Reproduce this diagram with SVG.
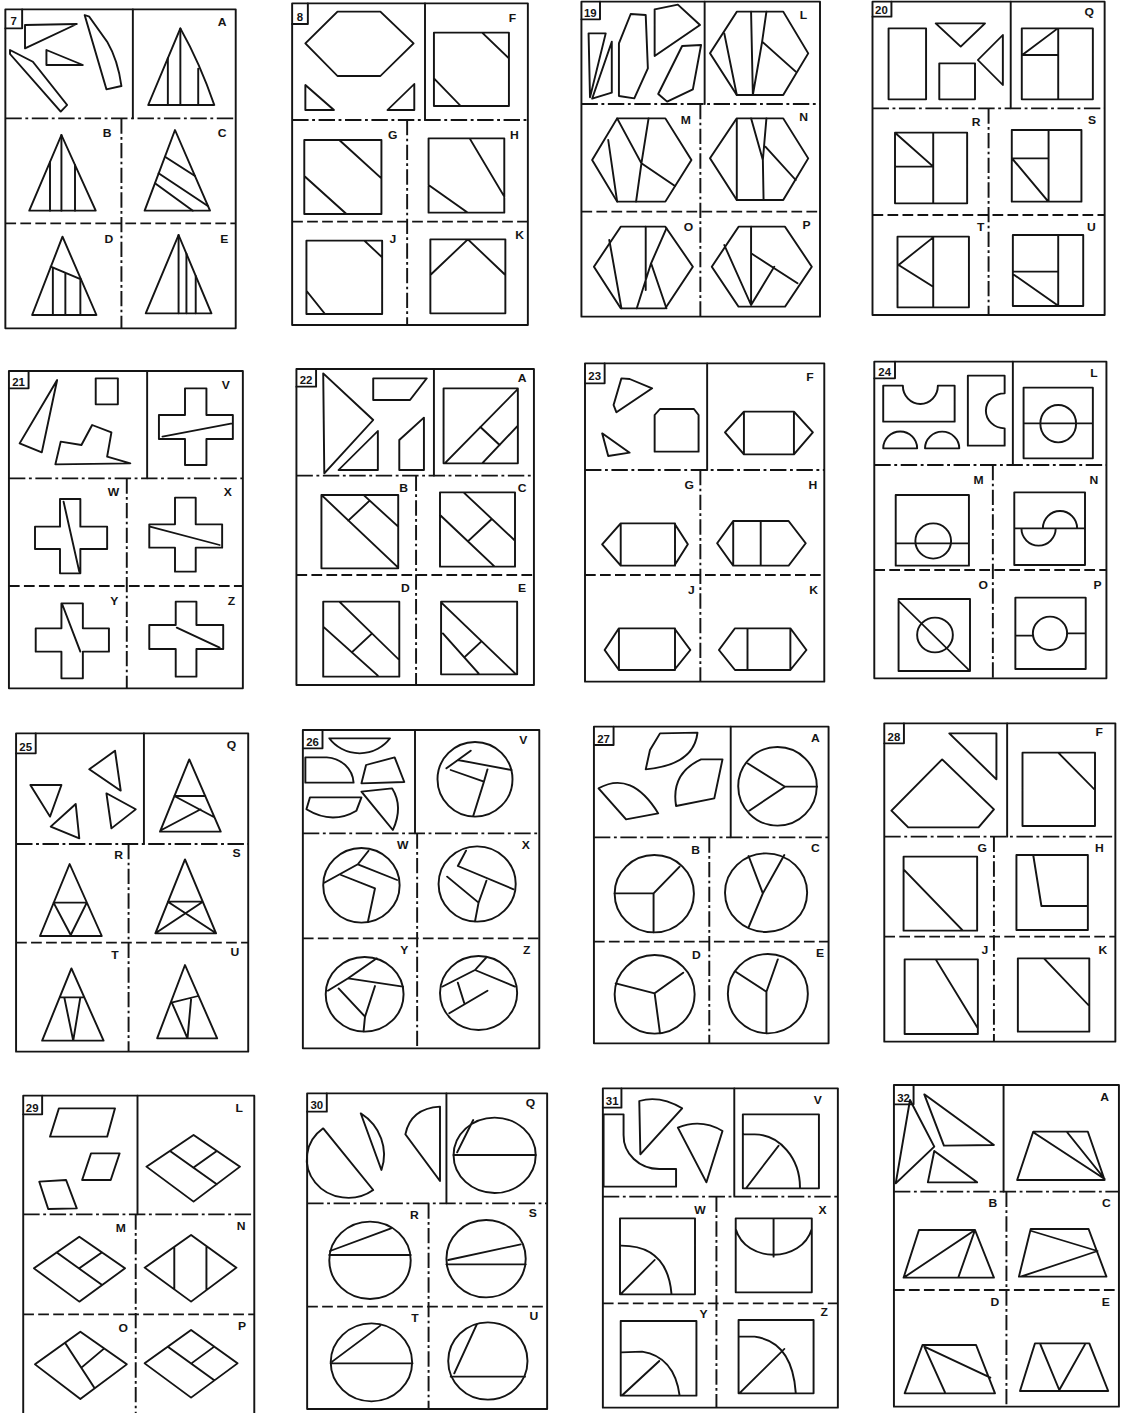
<svg xmlns="http://www.w3.org/2000/svg" width="1121" height="1413" viewBox="0 0 1121 1413">
<style>
.s{fill:none;stroke:#141414;stroke-width:5.4;stroke-linejoin:round;stroke-linecap:round}
.dd{stroke-dasharray:46 10 8 10;stroke-linecap:butt}
.da{stroke-dasharray:30 12;stroke-linecap:butt}
.t{font-family:"Liberation Sans",Arial,sans-serif;font-weight:bold;font-size:34px;fill:#141414;text-anchor:middle;stroke:none}
.n{font-family:"Liberation Sans",Arial,sans-serif;font-weight:bold;font-size:32px;fill:#141414;text-anchor:middle;stroke:none}
</style>
<rect width="1121" height="1413" fill="#fff"/>

<!-- Panel 7 -->
<g id="panel-7" class="s" transform="translate(0,0) scale(0.357143,0.333333)">
<path d="M15,28 H660 V985 H15 Z"/><path d="M62,28 V85 H15"/>
<text class="n" x="38" y="76">7</text>
<path d="M372,28 V355"/><path class="dd" d="M15,355 H660"/><path class="dd" d="M340,355 V985"/><path class="da" d="M15,670 H660"/>
<text class="t" x="622" y="77">A</text><text class="t" x="300" y="412">B</text><text class="t" x="622" y="412">C</text><text class="t" x="305" y="730">D</text><text class="t" x="628" y="730">E</text>
<path d="M70,75 L215,72 L70,145 Z"/><path d="M130,150 L232,195 L130,195 Z"/>
<path d="M28,150 L92,185 L188,315 L170,335 L28,162 Z"/>
<path d="M237,45 L250,50 L300,125 Q330,180 340,258 L298,268 Z"/>
<path d="M415,315 L505,85 Q560,190 600,315 Z"/><path d="M470,174 V315 M505,85 V315 M555,206 V312"/>
<path d="M172,405 L268,632 H82 Z"/><path d="M172,405 V632 M140,486 V632 M210,495 V632"/>
<path d="M490,390 L588,632 H405 Z"/><path d="M462,470 L546,528 M444,520 L582,618 M434,550 L540,632"/>
<path d="M175,710 L270,945 H90 Z"/><path d="M142,800 L227,838 M148,803 V945 M183,818 V945 M225,840 V945"/>
<path d="M500,705 L592,940 H408 Z"/><path d="M500,705 V940 M522,761 V940 M548,828 V940"/>
</g>

<!-- Panel 8 -->
<g id="panel-8" class="s" transform="translate(0,0) scale(0.357143,0.333333)">
<path d="M818,10 H1478 V975 H818 Z"/><path d="M862,10 V72 H818"/>
<text class="n" x="840" y="62">8</text>
<path d="M1190,10 V360"/><path class="dd" d="M818,360 H1478"/><path class="dd" d="M1140,360 V975"/><path class="da" d="M818,665 H1478"/>
<text class="t" x="1435" y="67">F</text><text class="t" x="1100" y="417">G</text><text class="t" x="1440" y="417">H</text><text class="t" x="1100" y="730">J</text><text class="t" x="1455" y="717">K</text>
<path d="M945,35 H1065 L1158,130 L1065,228 H945 L855,130 Z"/>
<path d="M855,255 V330 H935 Z"/><path d="M1160,252 V330 H1085 Z"/>
<path d="M1215,98 H1425 V318 H1215 Z M1350,98 L1425,175 M1215,235 L1290,318"/>
<path d="M852,420 H1068 V642 H852 Z M950,420 L1068,535 M852,528 L970,642"/>
<path d="M1200,415 H1412 V638 H1200 Z M1315,415 L1412,590 M1200,555 L1310,638"/>
<path d="M858,722 H1070 V942 H858 Z M1020,722 L1070,772 M858,872 L910,942"/>
<path d="M1205,718 H1415 V940 H1205 Z M1205,825 L1310,718 L1415,825"/>
</g>

<!-- Panel 19 -->
<g id="panel-19" class="s" transform="translate(560,0) scale(0.357143,0.333333)">
<path d="M60,5 H728 V950 H60 Z"/><path d="M112,5 V58 H60"/>
<text class="n" x="85" y="50">19</text>
<path d="M405,5 V312"/><path class="dd" d="M60,312 H728"/><path class="dd" d="M393,312 V950"/><path class="da" d="M60,635 H728"/>
<text class="t" x="682" y="57">L</text><text class="t" x="352" y="372">M</text><text class="t" x="682" y="362">N</text><text class="t" x="360" y="692">O</text><text class="t" x="690" y="687">P</text>
<path d="M80,100 L128,100 L84,292 Z"/><path d="M145,125 L145,278 L90,296 Z"/>
<path d="M198,42 L240,45 L246,205 L208,295 L165,288 L165,130 Z"/>
<path d="M265,28 L330,14 L392,75 L265,168 Z"/>
<path d="M342,138 L395,135 L372,268 L300,305 L275,282 Z"/>
<path d="M495,35 H625 L695,160 L625,285 H495 L420,160 Z"/><path d="M460,100 L495,285 M535,35 L540,285 M578,35 L566,125 L660,215 M566,125 L540,285"/>
<path d="M160,355 H295 L368,480 L295,605 H160 L90,480 Z"/><path d="M135,420 L160,605 M160,355 L228,490 M248,355 L228,490 M228,490 L213,605 M228,490 L322,558"/>
<path d="M495,355 H625 L695,475 L625,600 H495 L420,475 Z"/><path d="M495,358 V600 M535,355 L568,480 M578,355 L568,480 M568,480 L570,600 M575,440 L660,540"/>
<path d="M170,680 H295 L372,800 L295,925 H170 L95,800 Z"/><path d="M138,720 L172,925 M240,680 V870 M298,685 L255,790 L215,925 M255,790 L298,925"/>
<path d="M500,680 H630 L705,800 L630,920 H500 L425,800 Z"/><path d="M535,680 V915 M535,760 L665,850 M460,735 L535,915 M600,800 L535,915"/>
</g>

<!-- Panel 20 -->
<g id="panel-20" class="s" transform="translate(560,0) scale(0.357143,0.333333)">
<path d="M875,5 H1525 V945 H875 Z"/><path d="M928,5 V50 H875"/>
<text class="n" x="900" y="42">20</text>
<path d="M1262,5 V325"/><path class="dd" d="M875,325 H1525"/><path class="dd" d="M1200,325 V945"/><path class="da" d="M875,645 H1525"/>
<text class="t" x="1482" y="47">Q</text><text class="t" x="1165" y="377">R</text><text class="t" x="1490" y="372">S</text><text class="t" x="1178" y="692">T</text><text class="t" x="1488" y="692">U</text>
<path d="M920,85 H1025 V298 H920 Z"/><path d="M1052,70 H1190 L1122,140 Z"/><path d="M1062,190 H1162 V298 H1062 Z"/><path d="M1240,105 V255 L1170,180 Z"/>
<path d="M1293,85 H1492 V298 H1293 Z M1395,85 V298 M1293,165 H1395 M1298,162 L1390,88"/>
<path d="M938,398 H1140 V610 H938 Z M1045,398 V610 M938,500 H1045 M942,402 L1042,497"/>
<path d="M1265,390 H1460 V605 H1265 Z M1368,390 V605 M1265,475 H1368 M1268,478 L1365,602"/>
<path d="M945,710 H1145 V922 H945 Z M1045,712 V922 M1045,712 L948,795 L1045,860"/>
<path d="M1268,705 H1465 V918 H1268 Z M1395,705 V918 M1268,815 H1395 M1272,825 L1392,915"/>
</g>

<!-- Panel 21 -->
<g id="panel-21" class="s" transform="translate(0,355) scale(0.357143,0.333333)">
<path d="M25,48 H680 V1000 H25 Z"/><path d="M80,48 V100 H25"/>
<text class="n" x="52" y="92">21</text>
<path d="M412,48 V370"/><path class="dd" d="M25,370 H680"/><path class="dd" d="M355,370 V1000"/><path class="da" d="M25,693 H680"/>
<text class="t" x="632" y="102">V</text><text class="t" x="318" y="422">W</text><text class="t" x="638" y="422">X</text><text class="t" x="320" y="750">Y</text><text class="t" x="648" y="750">Z</text>
<path d="M160,75 L117,292 L55,265 Z"/><path d="M268,70 H330 V148 H268 Z"/>
<path d="M155,328 L170,260 L228,270 L258,210 L312,232 L300,305 L365,325 Z"/>
<path d="M518,100 H578 V180 H652 V252 H578 V330 H518 V252 H445 V180 H518 Z M455,245 L650,205"/>
<path d="M168,432 H225 V515 H300 V582 H225 V655 H168 V582 H98 V515 H168 Z M178,440 L222,650"/>
<path d="M490,428 H548 V508 H622 V578 H548 V650 H490 V578 H418 V508 H490 Z M420,515 L615,570"/>
<path d="M172,745 H232 V820 H305 V890 H232 V970 H172 V890 H100 V820 H172 Z M175,750 L225,890"/>
<path d="M492,740 H550 V810 H625 V882 H550 V965 H492 V882 H418 V810 H492 Z M495,818 L615,878"/>
</g>

<!-- Panel 22 -->
<g id="panel-22" class="s" transform="translate(0,355) scale(0.357143,0.333333)">
<path d="M830,42 H1495 V990 H830 Z"/><path d="M885,42 V95 H830"/>
<text class="n" x="857" y="88">22</text>
<path d="M1215,42 V362"/><path class="dd" d="M830,362 H1495"/><path class="dd" d="M1165,362 V990"/><path class="da" d="M830,660 H1495"/>
<text class="t" x="1462" y="82">A</text><text class="t" x="1130" y="412">B</text><text class="t" x="1462" y="412">C</text><text class="t" x="1135" y="712">D</text><text class="t" x="1462" y="712">E</text>
<path d="M905,55 L1045,195 L908,355 Z"/><path d="M948,345 L1058,228 V345 Z"/>
<path d="M1045,70 H1195 L1148,135 H1045 Z"/><path d="M1118,255 L1187,188 V345 H1118 Z"/>
<path d="M1242,100 H1450 V325 H1242 Z M1248,322 L1450,102 M1350,325 L1450,212 M1345,216 L1399,270"/>
<path d="M900,420 H1115 V640 H900 Z M905,425 L1112,635 M1020,422 L1115,515 M975,497 L1035,437"/>
<path d="M1232,412 H1442 V635 H1232 Z M1232,480 L1385,635 M1298,412 L1440,555 M1310,559 L1377,492"/>
<path d="M905,740 H1118 V965 H905 Z M905,815 L1058,962 M950,740 L1118,915 M985,892 L1042,835"/>
<path d="M1235,740 H1448 V958 H1235 Z M1238,745 L1445,958 M1240,835 L1340,955 M1300,907 L1348,859"/>
</g>

<!-- Panel 23 -->
<g id="panel-23" class="s" transform="translate(560,355) scale(0.357143,0.333333)">
<path d="M70,25 H740 V980 H70 Z"/><path d="M125,25 V85 H70"/>
<text class="n" x="97" y="76">23</text>
<path d="M412,25 V345"/><path class="dd" d="M70,345 H740"/><path class="dd" d="M393,345 V980"/><path class="da" d="M70,660 H740"/>
<text class="t" x="700" y="77">F</text><text class="t" x="362" y="402">G</text><text class="t" x="708" y="402">H</text><text class="t" x="368" y="717">J</text><text class="t" x="710" y="717">K</text>
<path d="M172,70 L195,72 L258,100 L158,172 L150,150 Z"/><path d="M118,235 L195,293 L135,303 Z"/>
<path d="M265,180 L280,162 H375 L388,180 V290 H265 Z"/>
<path d="M462,232 L515,170 H655 L708,232 L655,298 H515 Z M515,170 V298 M655,170 V298"/>
<path d="M118,568 L170,505 H320 L358,568 L320,632 H170 Z M170,505 V632 M322,505 V632"/>
<path d="M440,565 L485,498 H640 L688,565 L640,632 H485 Z M485,498 V632 M562,498 V632"/>
<path d="M125,885 L165,820 H320 L365,885 L320,945 H165 Z M165,820 V945 M322,820 V945"/>
<path d="M445,885 L490,820 H645 L690,885 L645,945 H490 Z M525,820 V945 M645,820 V945"/>
</g>

<!-- Panel 24 -->
<g id="panel-24" class="s" transform="translate(560,355) scale(0.357143,0.333333)">
<path d="M880,20 H1530 V970 H880 Z"/><path d="M938,20 V70 H880"/>
<text class="n" x="909" y="62">24</text>
<path d="M1268,20 V330"/><path class="dd" d="M880,330 H1530"/><path class="dd" d="M1212,330 V970"/><path class="da" d="M880,645 H1530"/>
<text class="t" x="1495" y="67">L</text><text class="t" x="1172" y="387">M</text><text class="t" x="1495" y="387">N</text><text class="t" x="1185" y="702">O</text><text class="t" x="1505" y="702">P</text>
<path d="M905,92 H960 A49,55 0 0 0 1058,92 H1105 V200 H905 Z"/>
<path d="M905,280 A47,50 0 0 1 1000,280 Z"/><path d="M1022,280 A48,50 0 0 1 1118,280 Z"/>
<path d="M1142,62 H1245 V115 A52,52 0 0 0 1245,220 V272 H1142 Z"/>
<path d="M1298,98 H1492 V310 H1298 Z M1298,205 H1492"/><ellipse cx="1395" cy="206" rx="50" ry="56"/>
<path d="M940,420 H1145 V632 H940 Z M940,565 H1145"/><ellipse cx="1045" cy="558" rx="50" ry="53"/>
<path d="M1272,412 H1470 V630 H1272 Z M1272,520 H1470 M1352,520 A48,52 0 0 1 1448,520 M1292,520 A48,52 0 0 0 1388,520"/>
<path d="M948,732 H1148 V948 H948 Z M948,738 L1145,945"/><ellipse cx="1050" cy="840" rx="50" ry="52"/>
<path d="M1275,728 H1472 V942 H1275 Z M1275,842 H1325 M1420,835 H1472"/><ellipse cx="1372" cy="835" rx="48" ry="50"/>
</g>

<!-- Panel 25 -->
<g id="panel-25" class="s" transform="translate(0,720) scale(0.357143,0.333333)">
<path d="M45,40 H695 V995 H45 Z"/><path d="M100,40 V100 H45"/>
<text class="n" x="72" y="92">25</text>
<path d="M403,40 V372"/><path class="dd" d="M45,372 H695"/><path class="dd" d="M360,372 V995"/><path class="da" d="M45,668 H695"/>
<text class="t" x="648" y="87">Q</text><text class="t" x="332" y="417">R</text><text class="t" x="662" y="412">S</text><text class="t" x="322" y="717">T</text><text class="t" x="658" y="707">U</text>
<path d="M85,195 H172 L140,290 Z"/><path d="M250,148 L322,92 L338,212 Z"/><path d="M142,320 L212,252 L222,355 Z"/><path d="M298,220 L380,268 L312,325 Z"/>
<path d="M530,118 L618,335 H448 Z M488,228 H575 M488,228 L600,292 M452,330 L562,268"/>
<path d="M195,432 L285,648 H112 Z M150,548 H243 M150,548 L198,645 L243,548"/>
<path d="M518,418 L605,640 H435 Z M470,545 H568 M470,545 L605,640 M568,545 L435,640"/>
<path d="M200,745 L290,962 H118 Z M167,832 H236 M180,832 L205,962 L225,832"/>
<path d="M518,735 L608,955 H440 Z M480,848 L555,828 M482,850 L525,955 L535,838"/>
</g>

<!-- Panel 26 -->
<g id="panel-26" class="s" transform="translate(0,720) scale(0.357143,0.333333)">
<path d="M848,30 H1510 V985 H848 Z"/><path d="M903,30 V85 H848"/>
<text class="n" x="875" y="77">26</text>
<path d="M1162,30 V340"/><path class="dd" d="M848,340 H1510"/><path class="dd" d="M1168,340 V985"/><path class="da" d="M848,655 H1510"/>
<text class="t" x="1465" y="72">V</text><text class="t" x="1128" y="387">W</text><text class="t" x="1472" y="387">X</text><text class="t" x="1132" y="702">Y</text><text class="t" x="1475" y="702">Z</text>
<path d="M922,55 H1092 A103,103 0 0 1 922,55 Z"/>
<path d="M855,112 H915 A80,80 0 0 1 990,188 H855 Z"/>
<path d="M1025,135 L1105,112 L1132,186 L1012,190 Z"/>
<path d="M868,232 H1012 L998,272 Q930,315 858,268 Z"/>
<path d="M1012,215 L1098,205 Q1130,260 1100,330 Z"/>
<ellipse cx="1330" cy="178" rx="105" ry="112"/><path d="M1250,145 L1318,92 M1282,120 L1432,150 M1262,150 L1355,185 L1365,148 M1355,185 L1325,288"/>
<ellipse cx="1012" cy="496" rx="107" ry="112"/><path d="M1032,392 L1002,433 L1112,480 M908,488 L1002,433 M955,465 L1050,505 L1030,606"/>
<ellipse cx="1336" cy="492" rx="108" ry="113"/><path d="M1305,392 L1282,438 L1438,508 M1252,470 L1340,548 L1362,482 M1340,548 L1330,604"/>
<ellipse cx="1021" cy="823" rx="109" ry="112"/><path d="M1055,715 L975,775 L1128,800 M918,812 L975,775 M948,805 L1022,890 L1050,798 M1022,890 L1018,934"/>
<ellipse cx="1340" cy="819" rx="108" ry="111"/><path d="M1362,712 L1330,750 L1442,800 M1238,800 L1330,750 M1282,788 L1300,850 M1258,880 L1365,812"/>
</g>

<!-- Panel 27 -->
<g id="panel-27" class="s" transform="translate(560,720) scale(0.357143,0.333333)">
<path d="M95,20 H752 V970 H95 Z"/><path d="M150,20 V75 H95"/>
<text class="n" x="122" y="68">27</text>
<path d="M478,20 V352"/><path class="dd" d="M95,352 H752"/><path class="dd" d="M418,352 V970"/><path class="da" d="M95,665 H752"/>
<text class="t" x="715" y="67">A</text><text class="t" x="380" y="402">B</text><text class="t" x="715" y="397">C</text><text class="t" x="382" y="717">D</text><text class="t" x="728" y="712">E</text>
<path d="M280,40 L385,38 Q375,135 240,148 L252,90 Z"/>
<path d="M395,118 L455,118 L432,235 L325,258 Q310,160 395,118 Z"/>
<path d="M108,205 Q200,150 275,280 L185,298 Z"/>
<ellipse cx="609" cy="199" rx="110" ry="118"/><path d="M525,130 L630,200 L720,200 M630,200 L530,272"/>
<ellipse cx="264" cy="521" rx="111" ry="116"/><path d="M153,520 H262 V637 M262,520 L335,440"/>
<ellipse cx="577" cy="518" rx="115" ry="118"/><path d="M528,408 L568,520 L628,405 M568,520 L528,622"/>
<ellipse cx="265" cy="823" rx="112" ry="118"/><path d="M156,790 L265,820 L345,758 M265,820 L280,940"/>
<ellipse cx="582" cy="821" rx="112" ry="119"/><path d="M492,755 L578,815 L610,718 M578,815 V940"/>
</g>

<!-- Panel 28 -->
<g id="panel-28" class="s" transform="translate(560,720) scale(0.357143,0.333333)">
<path d="M908,10 H1555 V965 H908 Z"/><path d="M963,10 V70 H908"/>
<text class="n" x="935" y="62">28</text>
<path d="M1252,10 V350"/><path class="dd" d="M908,350 H1555"/><path class="dd" d="M1215,350 V965"/><path class="da" d="M908,650 H1555"/>
<text class="t" x="1510" y="47">F</text><text class="t" x="1182" y="397">G</text><text class="t" x="1510" y="397">H</text><text class="t" x="1190" y="702">J</text><text class="t" x="1520" y="702">K</text>
<path d="M1090,40 H1222 V178 Z"/><path d="M1070,118 L1215,268 L1172,322 H975 L928,272 Z"/>
<path d="M1295,98 H1498 V318 H1295 Z M1395,98 L1498,210"/>
<path d="M962,410 H1168 V632 H962 Z M962,448 L1128,632"/>
<path d="M1278,405 H1478 V630 H1278 Z M1325,405 L1348,558 H1478"/>
<path d="M965,718 H1170 V942 H965 Z M1052,718 L1170,925"/>
<path d="M1282,715 H1482 V935 H1282 Z M1355,715 L1482,858"/>
</g>

<!-- Panel 29 -->
<g id="panel-29" class="s" transform="translate(0,1075) scale(0.357143,0.333333)">
<path d="M65,62 H712 V1040 H65 Z"/><path d="M118,62 V118 H65"/>
<text class="n" x="90" y="110">29</text>
<path d="M385,62 V418"/><path class="dd" d="M65,418 H712"/><path class="dd" d="M380,418 V1040"/><path class="da" d="M65,718 H712"/>
<text class="t" x="670" y="112">L</text><text class="t" x="338" y="470">M</text><text class="t" x="675" y="464">N</text><text class="t" x="345" y="772">O</text><text class="t" x="678" y="764">P</text>
<path d="M165,100 H322 L300,185 H140 Z"/><path d="M255,235 H335 L310,315 H230 Z"/><path d="M110,320 L185,315 L215,400 L135,402 Z"/>
<path d="M542,180 L672,275 L542,380 L410,275 Z M476,228 L607,328 M607,228 L541,278"/>
<path d="M222,485 L350,580 L222,680 L95,580 Z M158,532 L286,630 M286,532 L222,580"/>
<path d="M535,480 L662,578 L535,680 L405,578 Z M488,515 V643 M578,513 V645"/>
<path d="M225,770 L355,868 L225,972 L98,868 Z M182,803 L265,940 M228,878 L292,820"/>
<path d="M535,765 L665,865 L535,968 L405,865 Z M470,815 L600,916 M600,815 L535,866"/>
</g>

<!-- Panel 30 -->
<g id="panel-30" class="s" transform="translate(0,1075) scale(0.357143,0.333333)">
<path d="M860,55 H1532 V1002 H860 Z"/><path d="M915,55 V110 H860"/>
<text class="n" x="887" y="102">30</text>
<path d="M1250,55 V385"/><path class="dd" d="M860,385 H1532"/><path class="dd" d="M1200,385 V1002"/><path class="da" d="M860,695 H1532"/>
<text class="t" x="1485" y="97">Q</text><text class="t" x="1160" y="432">R</text><text class="t" x="1492" y="427">S</text><text class="t" x="1162" y="742">T</text><text class="t" x="1495" y="734">U</text>
<path d="M905,160 L1045,345 A116,116 0 0 1 905,160 Z"/>
<path d="M1010,115 L1068,285 A150,150 0 0 0 1010,115 Z"/>
<path d="M1232,95 V318 L1135,178 Q1150,100 1232,95 Z"/>
<ellipse cx="1385" cy="241" rx="115" ry="113"/><path d="M1270,240 H1500 M1280,232 L1325,135"/>
<ellipse cx="1036" cy="556" rx="114" ry="116"/><path d="M922,540 H1150 M924,528 L1095,460"/>
<ellipse cx="1361" cy="551" rx="111" ry="116"/><path d="M1250,568 H1472 M1255,555 L1458,508"/>
<ellipse cx="1040" cy="862" rx="114" ry="117"/><path d="M926,865 H1155 M930,860 L1065,752"/>
<ellipse cx="1366" cy="858" rx="111" ry="116"/><path d="M1262,905 H1470 M1272,895 L1335,748"/>
</g>

<!-- Panel 31 -->
<g id="panel-31" class="s" transform="translate(560,1075) scale(0.357143,0.333333)">
<path d="M120,40 H778 V998 H120 Z"/><path d="M172,40 V98 H120"/>
<text class="n" x="146" y="90">31</text>
<path d="M488,40 V365"/><path class="dd" d="M120,365 H778"/><path class="dd" d="M438,365 V998"/><path class="da" d="M120,685 H778"/>
<text class="t" x="722" y="87">V</text><text class="t" x="392" y="417">W</text><text class="t" x="735" y="417">X</text><text class="t" x="402" y="730">Y</text><text class="t" x="740" y="722">Z</text>
<path d="M122,118 H178 V180 A100,100 0 0 0 278,282 H325 V335 H122 Z"/>
<path d="M222,78 Q280,60 342,100 L225,238 Z"/>
<path d="M330,158 Q395,130 455,168 L410,322 Z"/>
<path d="M512,118 H725 V340 H512 Z M515,178 L545,178 A128,160 0 0 1 672,338 M522,338 L612,212"/>
<path d="M168,430 H378 V658 H168 Z M168,512 Q300,510 312,655 M172,655 L265,555"/>
<path d="M492,430 H705 V652 H492 Z M492,462 C520,565 676,565 705,462 M598,430 V545"/>
<path d="M170,738 H382 V962 H170 Z M172,832 L230,830 Q320,845 335,962 M175,960 L278,858"/>
<path d="M500,735 H710 V955 H500 Z M500,785 L545,785 Q650,800 660,952 M505,952 L628,822"/>
</g>

<!-- Panel 32 -->
<g id="panel-32" class="s" transform="translate(560,1075) scale(0.357143,0.333333)">
<path d="M935,30 H1565 V995 H935 Z"/><path d="M990,30 V88 H935"/>
<text class="n" x="962" y="80">32</text>
<path d="M1242,30 V350"/><path class="dd" d="M935,350 H1565"/><path class="dd" d="M1250,350 V995"/><path class="da" d="M935,645 H1565"/>
<text class="t" x="1525" y="77">A</text><text class="t" x="1212" y="397">B</text><text class="t" x="1530" y="397">C</text><text class="t" x="1218" y="692">D</text><text class="t" x="1528" y="692">E</text>
<path d="M980,75 L1048,215 L940,325 Z"/><path d="M1020,58 L1215,210 L1075,212 Z"/><path d="M1048,228 L1168,322 H1030 Z"/>
<path d="M1325,170 H1478 L1525,315 H1280 Z M1525,312 L1325,172 M1525,312 L1420,172"/>
<path d="M1005,465 H1162 L1215,608 H962 Z M1162,465 L962,608 M1162,465 L1115,608"/>
<path d="M1318,462 H1480 L1530,605 H1285 Z M1320,468 L1505,528 L1290,605"/>
<path d="M1015,810 H1165 L1218,955 H965 Z M1020,815 L1205,908 M1020,815 L1078,952"/>
<path d="M1330,805 H1482 L1535,948 H1288 Z M1345,808 L1398,945 L1470,808"/>
</g>
</svg>
